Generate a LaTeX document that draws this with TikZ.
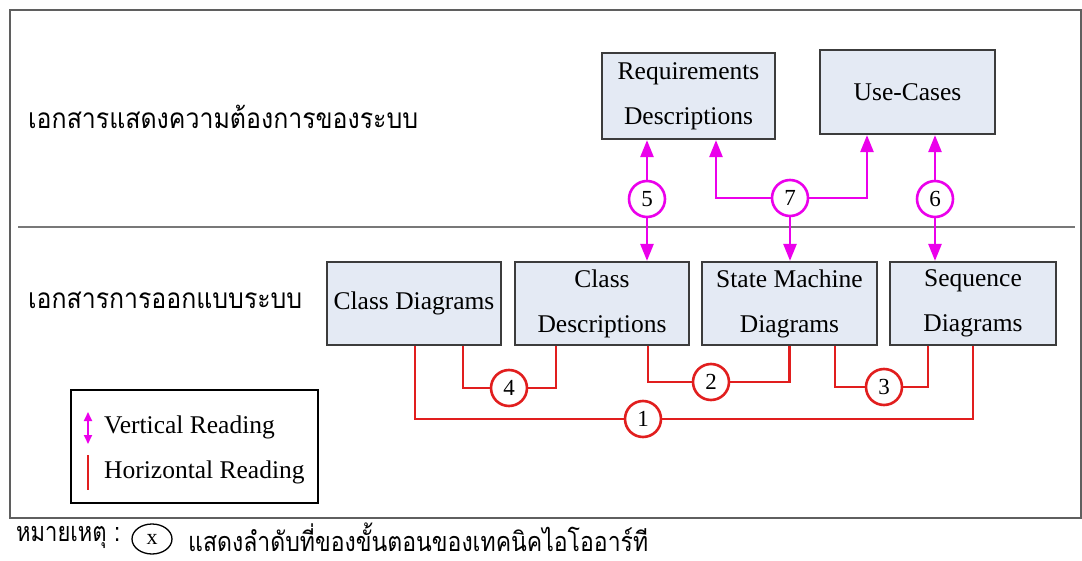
\documentclass[tikz,border=0pt]{standalone}
\usepackage{fontspec}
\usepackage{graphicx}
\setmainfont{Liberation Serif}
\newfontfamily\thaifont[Script=Thai]{Loma}
\usetikzlibrary{arrows.meta,shapes.geometric,calc}
\definecolor{boxfill}{RGB}{228,234,244}
\definecolor{boxline}{RGB}{60,60,60}
\definecolor{vread}{RGB}{235,0,235}
\definecolor{hread}{RGB}{225,30,30}
\definecolor{framegray}{RGB}{95,95,95}
\definecolor{sepgray}{RGB}{120,120,120}

\begin{document}
\begin{tikzpicture}[x=1pt,y=-1pt,line join=miter,
    docbox/.style={draw=boxline,line width=2.2pt,fill=boxfill,align=center,inner sep=0pt,
        minimum height=83pt,font=\fontsize{25.5}{45}\selectfont},
    vnum/.style={circle,draw=vread,line width=2.6pt,fill=white,minimum size=36pt,inner sep=0pt,
        font=\fontsize{23}{23}\selectfont},
    hnum/.style={vnum,draw=hread},
    vline/.style={draw=vread,line width=2.6pt,-{Triangle[width=13pt,length=17pt]}},
    hline/.style={draw=hread,line width=2.6pt},
    thai/.style={anchor=west,inner sep=0pt}]
                \useasboundingbox (0,0) rectangle (1082,561);
                % frame and divider
                \draw [framegray,line width=2.5pt] (10,10) rectangle (1081,518);
                \draw [sepgray,line width=2.5pt] (18,227)-- (1075,227);
                % level labels
                \node[thai] (reqlevel) at (28,117) {\resizebox{390pt}{\height}{\fontsize{28}{30}\thaifont เอกสารแสดงความต้องการของระบบ}};
                \node[thai] (deslevel) at (28,300) {\resizebox{274pt}{\height}{\fontsize{28}{30}\thaifont เอกสารการออกแบบระบบ}};
                % documents
                \node[docbox,minimum width=173pt,minimum height=86pt] (req) at (688.5,96) {Requirements\\Descriptions};
                \node[docbox,minimum width=175pt,minimum height=84pt] (uc) at (907.5,92) {Use-Cases};
                \node[docbox,minimum width=174pt] (cd) at (414,303.5) {Class Diagrams};
                \node[docbox,minimum width=174pt] (cdesc) at (602,303.5) {Class\\Descriptions};
                \node[docbox,minimum width=175pt] (smd) at (789.5,303.5) {State Machine\\Diagrams};
                \node[docbox,minimum width=166pt] (seq) at (973,303.5) {Sequence\\Diagrams};
                % horizontal reading
                \node[hnum] (c4) at (509,388) {4};
                \node[hnum] (c2) at (711,382) {2};
                \node[hnum] (c3) at (884,387) {3};
                \node[hnum] (c1) at (643,419) {1};
                \draw [hline] (c4.west) -| ([xshift=49pt]cd.south);
                \draw [hline] (c4.east) -| ([xshift=-46pt]cdesc.south);
                \draw [hline] (c2.west) -| ([xshift=46pt]cdesc.south);
                \draw [hline] (c2.east) -| (smd.south);
                \draw [hline] (c3.west) -| ([xshift=45.5pt]smd.south);
                \draw [hline] (c3.east) -| ([xshift=-45pt]seq.south);
                \draw [hline] (c1.west) -| ([xshift=1pt]cd.south);
                \draw [hline] (c1.east) -| (seq.south);
                % vertical reading
                \node[vnum] (c5) at (647,199) {5};
                \node[vnum] (c7) at (790,198) {7};
                \node[vnum] (c6) at (935,199) {6};
                \draw [vline] (c5) -- (c5 |- req.south);
                \draw [vline] (c5) -- (c5 |- cdesc.north);
                \draw [vline] (c7.west) -| ([xshift=27.5pt]req.south);
                \draw [vline] (c7.east) -| ([xshift=-40.5pt]uc.south);
                \draw [vline] (c7) -- (c7 |- smd.north);
                \draw [vline] (c6) -- (c6 |- uc.south);
                \draw [vline] (c6) -- (c6 |- seq.north);
                % legend
                \node[draw,line width=1.5pt,minimum width=247pt,minimum height=113pt,inner sep=0pt] (legend) at (194.5,446.5) {};
                \coordinate (vtop) at (88,412);
                \coordinate (vbot) at (88,444);
                \coordinate (htop) at (88,455);
                \coordinate (hbot) at (88,490);
                \draw [vread,line width=2pt,{Triangle[width=8pt,length=9pt]}-{Triangle[width=8pt,length=9pt]}] (vtop)-- (vbot);
                \draw [hread,line width=1.5pt] (htop)-- (hbot);
                \node[anchor=west,inner sep=0pt,font=\fontsize{25.5}{30}\selectfont] (vtext) at (104,427) {Vertical Reading};
                \node[anchor=west,inner sep=0pt,font=\fontsize{25.5}{30}\selectfont] (htext) at (104,472) {Horizontal Reading};
                % note
                \node[thai] (notehead) at (16,537) {\resizebox{104pt}{\height}{\fontsize{27}{29}\thaifont หมายเหตุ :}};
                \node[ellipse,draw,line width=1.3pt,minimum width=40pt,minimum height=30pt,inner sep=0pt,
                    font=\fontsize{22}{22}\selectfont] (xmark) at (152,539) {x};
                \node[thai] (notetext) at (188,537) {\resizebox{460pt}{\height}{\fontsize{27}{29}\thaifont แสดงลำดับที่ของขั้นตอนของเทคนิคไอโออาร์ที}};
            \end{tikzpicture}
\end{document}
